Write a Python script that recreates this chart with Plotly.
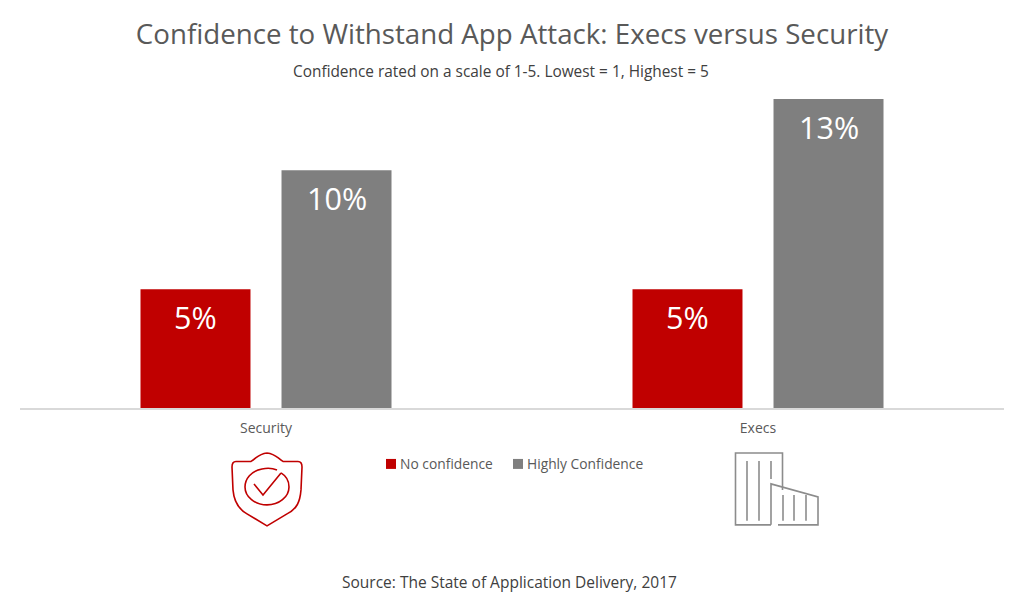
import plotly.graph_objects as go

# Chart data
categories = ['Security', 'Execs']
no_confidence = [5, 5]
highly_confident = [10, 13]
series_names = ['No confidence', 'Highly Confidence']

RED = '#c00000'
GREY = '#7f7f7f'
TEXT = '#595959'
DARK = '#404040'
ICON_GREY = '#8c8c8c'
FONT = 'Open Sans'

BARGAP = 0.4268
GROUPGAP = 0.22

# Plot area in page pixels, the icons and legend are placed relative to it
LEFT, RIGHT, TOP, BOTTOM = 20, 1004, 98.6, 408


def paper_x(x):
    return (x - LEFT) / (RIGHT - LEFT)


def paper_y(y):
    return (BOTTOM - y) / (BOTTOM - TOP)


def icon_path(commands):
    parts = []
    for cmd in commands:
        pts = ' '.join(f'{paper_x(x):.5f},{paper_y(y):.5f}' for x, y in cmd[1:])
        parts.append(cmd[0] + pts)
    return ' '.join(parts)


def page_text(text, x, y, size, color, anchor='center'):
    return dict(text=text, xref='paper', yref='paper', x=paper_x(x), y=paper_y(y),
                xanchor=anchor, yanchor='middle', showarrow=False,
                font=dict(family=FONT, size=size, color=color))


def swatch(x, y, color):
    return dict(type='rect', xref='paper', yref='paper', line_width=0, fillcolor=color,
                x0=paper_x(x), x1=paper_x(x + 10), y0=paper_y(y + 5), y1=paper_y(y - 5))


# Shield icon below Security
shield = icon_path([
    ('M', (267, 453)),
    ('C', (258, 454), (257, 458), (251, 461.5)),
    ('L', (236, 461.5)),
    ('C', (233, 461.5), (232, 464), (232, 467)),
    ('L', (233, 490)),
    ('C', (234, 502), (238, 509), (247, 514)),
    ('L', (267, 526)),
    ('L', (287, 514)),
    ('C', (297, 509), (300, 502), (301, 490)),
    ('L', (302, 467)),
    ('C', (302, 464), (301, 461.5), (298, 461.5)),
    ('L', (283, 461.5)),
    ('C', (277, 458), (276, 454), (267, 453)),
])
ring = icon_path([
    ('M', (277, 470)),
    ('C', (272, 468), (267, 468), (262, 469)),
    ('C', (251, 471), (245, 479), (245, 487)),
    ('C', (245, 497), (255, 505), (267, 505)),
    ('C', (279, 505), (289, 497), (289, 487)),
    ('C', (289, 480), (286, 476), (281, 473)),
])
check = icon_path([
    ('M', (254, 484)),
    ('L', (263, 495)),
    ('L', (281, 473)),
])

# Building icon below Execs
tower = icon_path([
    ('M', (771, 525)),
    ('L', (735.5, 525)),
    ('L', (735.5, 453)),
    ('L', (782.5, 453)),
    ('L', (782.5, 490)),
])
annex = icon_path([
    ('M', (778, 525)),
    ('L', (818, 525)),
    ('L', (818, 497)),
    ('L', (771, 484)),
    ('L', (771, 525)),
])
tower_lines = [
    icon_path([('M', (x, 461)), ('L', (x, y))])
    for x, y in [(747, 521), (759, 521), (771, 479)]
]
annex_lines = [
    icon_path([('M', (x, 495)), ('L', (x, 521))])
    for x in [783, 794, 806]
]

shapes = [swatch(386, 464, RED), swatch(513, 464, GREY)]
for path in [shield, ring, check]:
    shapes.append(dict(type='path', path=path, xref='paper', yref='paper',
                       line=dict(color=RED, width=1.6)))
for path in [tower, annex] + tower_lines + annex_lines:
    shapes.append(dict(type='path', path=path, xref='paper', yref='paper',
                       line=dict(color=ICON_GREY, width=1.6)))

fig = go.Figure()
fig.add_trace(go.Bar(name=series_names[0], x=categories, y=no_confidence, marker_color=RED))
fig.add_trace(go.Bar(name=series_names[1], x=categories, y=highly_confident, marker_color=GREY))
fig.update_traces(marker_line_width=0, showlegend=False, cliponaxis=False)

# Data labels sit lower inside the bar than plotly's inside text, so they are annotations
offset = (1 - BARGAP) / 4
bar_labels = []
for i in range(len(categories)):
    for value, side in [(no_confidence[i], -1), (highly_confident[i], 1)]:
        bar_labels.append(dict(text=f'{value}%', x=i + side * offset, y=value,
                               xref='x', yref='y', yshift=-28, showarrow=False,
                               xanchor='center', yanchor='middle',
                               font=dict(family=FONT, size=30.5, color='white')))

fig.update_layout(
    width=1024,
    height=611,
    margin=dict(l=LEFT, r=1024 - RIGHT, t=TOP, b=611 - BOTTOM, pad=0),
    paper_bgcolor='white',
    plot_bgcolor='white',
    barmode='group',
    bargap=BARGAP,
    bargroupgap=GROUPGAP,
    showlegend=False,
    font=dict(family=FONT, color=TEXT, size=14),
    title=dict(text='Confidence to Withstand App Attack: Execs versus Security',
               font=dict(family=FONT, size=27.7, color=TEXT),
               x=0.5, xanchor='center', y=0.944, yanchor='middle'),
    xaxis=dict(showline=True, linecolor='#d9d9d9', linewidth=1.5, ticks='',
               ticklabelstandoff=6, tickfont=dict(family=FONT, size=14, color=TEXT)),
    yaxis=dict(visible=False, range=[0, 13]),
    shapes=shapes,
    annotations=bar_labels + [
        page_text('Confidence rated on a scale of 1-5. Lowest = 1, Highest = 5', 501, 71, 15.4, DARK),
        page_text('Source: The State of Application Delivery, 2017', 509.5, 582.5, 15.5, DARK),
        page_text(series_names[0], 398, 464, 13.8, TEXT, anchor='left'),
        page_text(series_names[1], 525, 464, 13.8, TEXT, anchor='left'),
    ],
)

fig.write_html('out.html', config=dict(displayModeBar=False),
               post_script="document.body.style.margin='0';")
